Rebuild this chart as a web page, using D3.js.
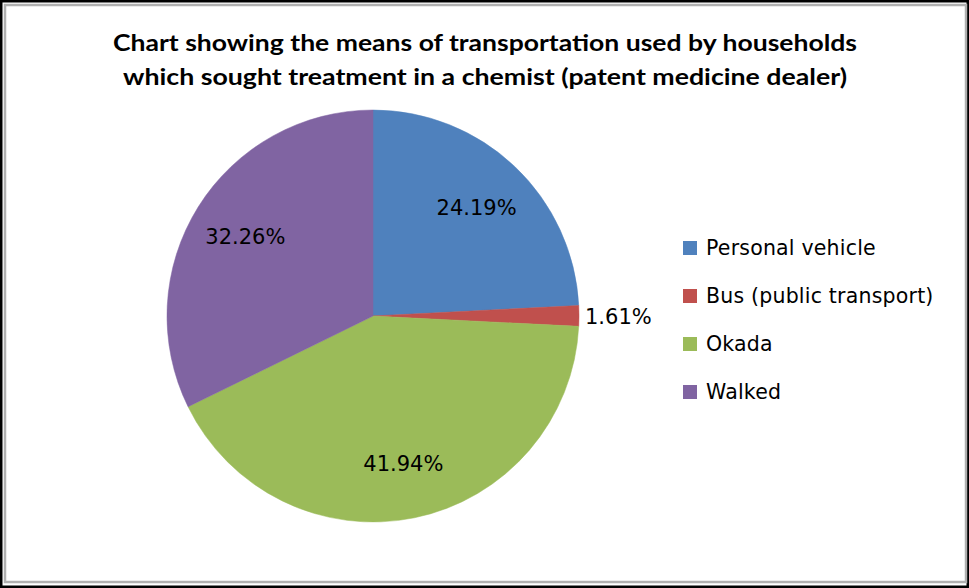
<!DOCTYPE html>
<html>
<head>
<meta charset="utf-8">
<script src="https://cdn.jsdelivr.net/npm/d3@7"></script>
<style>
  body { margin: 0; background: #fff; }
  svg text { font-family: "DejaVu Sans", Verdana, sans-serif; fill: #000; }
</style>
</head>
<body>
<svg id="chart" width="969" height="588"></svg>
<script>
// chart values
var categories = ["Personal vehicle", "Bus (public transport)", "Okada", "Walked"];
var percents = [24.19, 1.61, 41.94, 32.26];
var labels = ["24.19%", "1.61%", "41.94%", "32.26%"];
var colours = ["#4f81bd", "#c0504d", "#9bbb59", "#8064a2"];
var titleLines = [
  "Chart showing the means of transportation used by households",
  "which sought treatment in a  chemist (patent medicine dealer)"
];

var svg = d3.select("#chart");

// frame: dark outer edge, grey inner edge
svg.append("rect")
  .attr("x", 1).attr("y", 1).attr("width", 967).attr("height", 586)
  .attr("fill", "#fff").attr("stroke", "#000").attr("stroke-width", 3);
svg.append("rect")
  .attr("x", 5).attr("y", 5).attr("width", 961).attr("height", 577)
  .attr("fill", "none").attr("stroke", "#b0b0b0").attr("stroke-width", 2.5);

// title (narrow bold face squeezed to the original widths)
var titleWidths = [744, 724];
svg.selectAll(".title")
  .data(titleLines)
  .enter().append("text")
  .attr("class", "title")
  .attr("x", 485)
  .attr("y", function(d, i) { return 51 + i * 34; })
  .attr("text-anchor", "middle")
  .style("font-family", "Lato, sans-serif")
  .attr("font-size", 23.5)
  .attr("font-weight", "bold")
  .attr("textLength", function(d, i) { return titleWidths[i]; })
  .attr("lengthAdjust", "spacingAndGlyphs")
  .text(function(d) { return d; });

// pie
var cx = 373, cy = 316, r = 206;
var pie = d3.pie().sort(null).value(function(d) { return d; });
var arcs = pie(percents);
var arc = d3.arc().innerRadius(0).outerRadius(r);
var g = svg.append("g").attr("transform", "translate(" + cx + "," + cy + ")");

g.selectAll("path")
  .data(arcs)
  .enter().append("path")
  .attr("d", arc)
  .attr("fill", function(d, i) { return colours[i]; })
  .attr("stroke", function(d, i) { return colours[i]; })
  .attr("stroke-width", 0.5);

// data labels: inside for big slices, outside for the thin one
var innerArc = d3.arc().innerRadius(r * 0.73).outerRadius(r * 0.73);
g.selectAll(".lbl")
  .data(arcs)
  .enter().append("text")
  .attr("class", "lbl")
  .attr("font-size", 21)
  .attr("text-anchor", function(d, i) { return i == 1 ? "start" : "middle"; })
  .attr("transform", function(d, i) {
    if (i == 1) {
      var a = (d.startAngle + d.endAngle) / 2;
      return "translate(" + (Math.sin(a) * (r + 6)) + "," + (-Math.cos(a) * (r + 6) + 8) + ")";
    }
    var c = innerArc.centroid(d);
    return "translate(" + c[0] + "," + (c[1] + 8) + ")";
  })
  .text(function(d, i) { return labels[i]; });

// legend
var legend = svg.append("g").attr("transform", "translate(683,241)");
var row = legend.selectAll("g")
  .data(categories)
  .enter().append("g")
  .attr("transform", function(d, i) { return "translate(0," + (i * 48) + ")"; });

row.append("rect")
  .attr("width", 14).attr("height", 14)
  .attr("fill", function(d, i) { return colours[i]; });

row.append("text")
  .attr("x", 23)
  .attr("y", 14)
  .attr("font-size", 20.5)
  .attr("letter-spacing", 0.2)
  .text(function(d) { return d; });
</script>
</body>
</html>
